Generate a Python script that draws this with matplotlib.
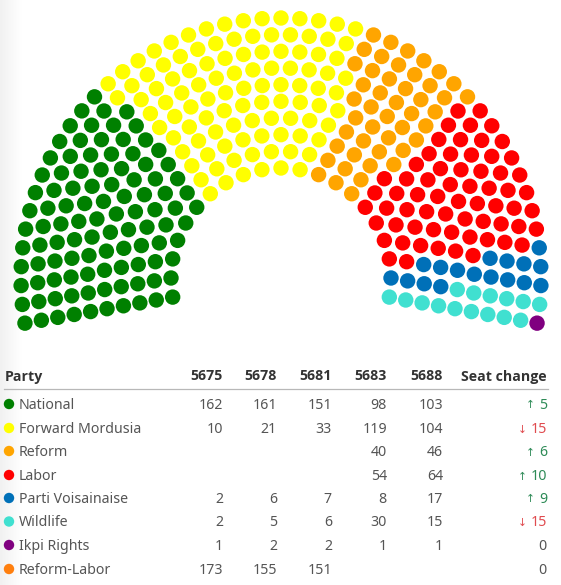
import numpy as np
import matplotlib
matplotlib.use("Agg")
import matplotlib.pyplot as plt
from matplotlib.patches import Circle

# ---------------- data ----------------
parties = ["National", "Forward Mordusia", "Reform", "Labor",
           "Parti Voisainaise", "Wildlife", "Ikpi Rights", "Reform-Labor"]
colors = ["#008000", "#FFFF00", "#FFA500", "#FF0000",
          "#0070B8", "#40E0D0", "#800080", "#FF7F0E"]
years = ["5675", "5678", "5681", "5683", "5688"]
s5675 = [162, 10, None, None, 2, 2, 1, 173]
s5678 = [161, 21, None, None, 6, 5, 2, 155]
s5681 = [151, 33, None, None, 7, 6, 2, 151]
s5683 = [98, 119, 40, 54, 8, 30, 1, None]
s5688 = [103, 104, 46, 64, 17, 15, 1, None]
seat_change = [5, -15, 6, 10, 9, -15, 0, 0]

# ---------------- figure ----------------
W, H = 561, 585
fig = plt.figure(figsize=(W / 100, H / 100), dpi=100)
ax = fig.add_axes([0, 0, 1, 1])
ax.set_xlim(0, W)
ax.set_ylim(H, 0)
ax.set_aspect("equal")
ax.axis("off")

# faint shadow on the left edge
grad = np.linspace(0.945, 1.0, 64)[None, :]
ax.imshow(np.dstack([grad, grad, grad]), extent=(0, 22, H, 0), aspect="auto", zorder=0)

FONT = ["Noto Sans", "DejaVu Sans"]
BOLD_FONT = ["Open Sans", "Noto Sans", "DejaVu Sans"]

# ---------------- hemicycle ----------------
cx, cy = 281, 278
r_in, r_out, n_rows = 110, 260, 10
a_start, a_end = 190.0, -10.0
dot_r = 7.7
span = np.deg2rad(a_start - a_end)

seat_counts = [v for v in s5688 if v is not None]
seat_colors = [c for v, c in zip(s5688, colors) if v is not None]
total = sum(seat_counts)

radii = np.linspace(r_in, r_out, n_rows)
spacing = radii.sum() * span / (total - n_rows)
raw = radii * span / spacing + 1
counts = np.floor(raw).astype(int)
rem = total - counts.sum()
order = np.argsort(-(raw - counts))
for k in order[:rem]:
    counts[k] += 1

slots = []
for r, n in zip(radii, counts):
    for a in np.linspace(a_start, a_end, n):
        slots.append((a, r))
slots.sort(key=lambda t: (-t[0], t[1]))

slot_colors = []
for n, c in zip(seat_counts, seat_colors):
    slot_colors += [c] * n

for (a, r), c in zip(slots, slot_colors):
    x = cx + r * np.cos(np.deg2rad(a))
    y = cy - r * np.sin(np.deg2rad(a))
    ax.add_patch(Circle((x, y), dot_r, facecolor=c, edgecolor="none", zorder=2))

# ---------------- table ----------------
fs = 10.2
head_col = "#333333"
body_col = "#555555"
col_right = [223, 277, 332, 387, 443]
change_right = 547
header_y = 376.5
row_y = [404, 428, 451, 475, 498, 521.5, 545, 569]
text_dy = 1.5

ax.text(5, header_y, "Party", ha="left", va="center", fontsize=fs,
        fontweight="bold", color=head_col, family=BOLD_FONT)
for xr, yr in zip(col_right, years):
    ax.text(xr, header_y, yr, ha="right", va="center", fontsize=fs,
            fontweight="bold", color=head_col, family=BOLD_FONT)
ax.text(change_right, header_y, "Seat change", ha="right", va="center",
        fontsize=fs, fontweight="bold", color=head_col, family=BOLD_FONT)
ax.plot([4, 548], [388.5, 388.5], color="#b8b8b8", lw=0.9)

fig.canvas.draw()
renderer = fig.canvas.get_renderer()

cols = [s5675, s5678, s5681, s5683, s5688]
for i, (p, c) in enumerate(zip(parties, colors)):
    y = row_y[i]
    ty = y + text_dy
    ax.add_patch(Circle((9, y), 5.2, facecolor=c, edgecolor="none"))
    ax.text(19, ty, p, ha="left", va="center", fontsize=fs, color=body_col, family=FONT)
    for xr, col in zip(col_right, cols):
        v = col[i]
        if v is not None:
            ax.text(xr, ty, str(v), ha="right", va="center", fontsize=fs,
                    color=body_col, family=FONT)
    ch = seat_change[i]
    if ch > 0:
        ccol, arrow = "#2e8b57", "↑"
    elif ch < 0:
        ccol, arrow = "#e04b4f", "↓"
    else:
        ccol, arrow = body_col, ""
    t = ax.text(change_right, ty, str(abs(ch)), ha="right", va="center",
                fontsize=fs, color=ccol, family=FONT)
    if arrow:
        bb = t.get_window_extent(renderer=renderer)
        xl = bb.x0
        ax.text(xl - 4, ty, arrow, ha="right", va="center", fontsize=fs * 0.75,
                color=ccol, family="DejaVu Sans")

fig.savefig("out.png", dpi=100, facecolor="white")
